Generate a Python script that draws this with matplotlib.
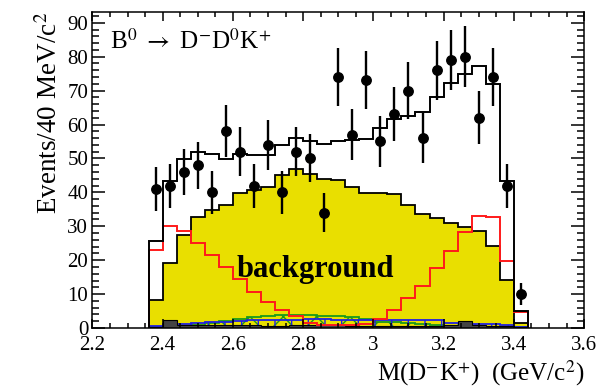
import matplotlib
matplotlib.use("Agg")
import matplotlib.pyplot as plt
from matplotlib.ticker import MultipleLocator
import numpy as np

plt.rcParams['font.family'] = ['Liberation Serif', 'DejaVu Serif']
plt.rcParams['mathtext.fontset'] = 'stix'
plt.rcParams['hatch.linewidth'] = 1.0

# bins of 40 MeV from 2.36 to 3.44 GeV/c^2
edges = np.round(np.arange(2.36, 3.4401, 0.04), 2)
centers = (edges[:-1] + edges[1:]) / 2

# data points
counts = [41, 42, 46, 48, 40, 58, 52, 42, 54, 40, 52, 50, 34, 74, 57, 73, 55,
          63, 70, 56, 76, 79, 80, 62, 74, 42, 10]

# fit components
total = [25.6, 43.4, 49.8, 52.0, 51.3, 49.9, 51.3, 50.9, 51.1, 54.1, 55.9, 55.0,
         54.3, 55.2, 55.5, 55.8, 58.9, 61.7, 62.6, 63.8, 68.2, 72.2, 74.9, 77.3,
         71.9, 43.4, 5.1]
background = [8.3, 19.1, 27.3, 32.6, 34.8, 36.2, 39.8, 40.7, 41.7, 45.2, 46.9, 45.4,
              43.9, 43.5, 41.7, 39.7, 39.7, 39.5, 36.3, 33.6, 32.5, 31.0, 29.8, 28.5,
              24.2, 14.1, 1.4]
red = [23.0, 30.2, 28.5, 25.2, 21.5, 17.9, 14.4, 10.7, 7.8, 5.3, 3.5, 1.4, 1.0, 1.0,
       1.0, 1.2, 2.6, 5.3, 8.8, 12.5, 17.6, 22.7, 28.4, 33.1, 32.6, 19.9, 4.8]
green = [0.3, 0.5, 0.7, 1.0, 1.5, 2.2, 2.6, 3.2, 3.5, 3.8, 3.9, 3.8, 3.6, 3.6, 3.3,
         2.6, 1.9, 1.9, 1.5, 1.2, 0.9, 0.6, 0.5, 0.4, 0.3, 0.3, 0.2]
blue = [0.6, 1.1, 1.3, 1.5, 1.7, 1.9, 2.1, 2.3, 2.4, 2.5, 2.5, 2.6, 2.6, 2.4, 2.4,
        2.3, 2.5, 2.5, 2.5, 2.5, 2.3, 1.6, 1.4, 1.3, 1.2, 0.9, 0.4]
dark = [0.3, 2.4, 1.0, 0.9, 0.8, 0.8, 0.8, 0.8, 0.7, 0.7, 0.8, 0.8, 0.8, 0.8, 0.7,
        0.7, 0.7, 0.7, 0.7, 0.7, 0.7, 0.8, 2.2, 0.8, 0.7, 0.6, 0.3]

fig = plt.figure(figsize=(5.96, 3.87), dpi=100)
ax = fig.add_axes([0.155, 0.1525, 0.825, 0.8175])

# background (yellow)
ax.stairs(background, edges, fill=True, facecolor='#e9df00', edgecolor='none')
ax.stairs(background, edges, color='black', lw=1.3)

# small components at the bottom
ax.stairs(green, edges, fill=True, facecolor='none', edgecolor='#1a9a1a', hatch='x', lw=1.3)
ax.stairs(blue, edges, fill=True, facecolor='none', edgecolor='#2020e0', hatch='|', lw=1.3)
ax.stairs(dark, edges, fill=True, facecolor='#444444', edgecolor='black', lw=0.8)

# red component and total fit
ax.stairs(red, edges, color='#ff1a1a', lw=1.4)
ax.stairs(total, edges, color='black', lw=1.4)

# data
ax.errorbar(centers, counts, yerr=np.sqrt(counts), fmt='o', color='black',
            ms=6.8, elinewidth=1.7, capsize=0, zorder=5)

ax.text(2.61, 15.1, 'background', fontsize=22, fontweight='bold',
        ha='left', va='baseline')
ax.text(2.25, 84.5, r'B$^{0}$ $\rightarrow$ D$^{\mathsf{-}}$D$^{0}$K$^{+}$', fontsize=18,
        ha='left', va='center')

ax.set_xlim(2.2, 3.6)
ax.set_ylim(0, 93.3)
ax.xaxis.set_major_locator(MultipleLocator(0.2))
ax.xaxis.set_minor_locator(MultipleLocator(0.05))
ax.yaxis.set_major_locator(MultipleLocator(10))
ax.yaxis.set_minor_locator(MultipleLocator(2))
ax.xaxis.set_major_formatter(plt.FuncFormatter(lambda v, p: '%g' % round(v, 1)))

ax.tick_params(which='both', direction='in', top=True, right=True,
               labelsize=15, width=1.1)
ax.tick_params(axis='x', which='major', length=6.5, pad=6)
ax.tick_params(axis='x', which='minor', length=3.5)
ax.tick_params(axis='y', which='major', length=9.5, pad=3)
ax.tick_params(axis='y', which='minor', length=5)
for s in ax.spines.values():
    s.set_linewidth(1.1)

ax.set_ylabel(r'Events/40 MeV/c$^{2}$', fontsize=19.5, loc='top', labelpad=3)
ax.set_xlabel(r'M(D$^{-}$K$^{+}$)  (GeV/c$^{2}$)', fontsize=18, loc='right', labelpad=2)

fig.savefig('out.png', dpi=100)
